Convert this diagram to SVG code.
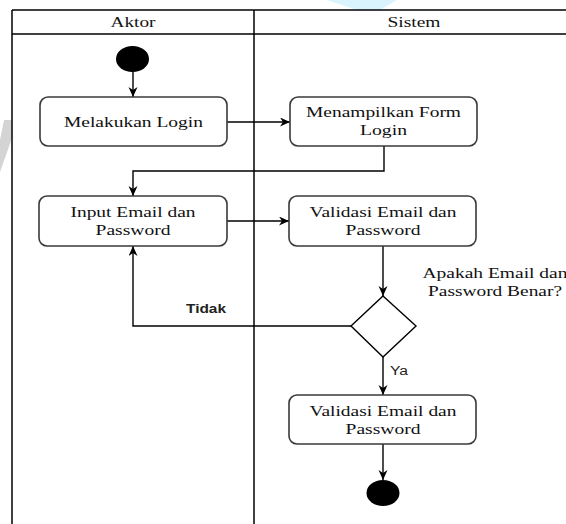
<svg xmlns="http://www.w3.org/2000/svg" width="566" height="524" viewBox="0 0 566 524">
  <style>
    .frame { fill: none; stroke: #000; stroke-width: 1.5; }
    .box { fill: #fff; stroke: #3a3a3a; stroke-width: 1.6; }
    .t { font-family: "Liberation Serif", "Times New Roman", serif; font-size: 15px; fill: #111; text-anchor: middle; }
    .lbl { font-family: "Liberation Sans", Arial, sans-serif; font-size: 12.5px; fill: #222; }
    .edge { fill: none; stroke: #000; stroke-width: 1.4; marker-end: url(#arrow); }
  </style>
  <defs>
    <marker id="arrow" markerUnits="userSpaceOnUse" markerWidth="12" markerHeight="10" refX="10" refY="4.5" orient="auto">
      <path d="M0,0 L10,4.5 L0,9 L3,4.5 z" fill="#000"/>
    </marker>
  </defs>
  <rect width="566" height="524" fill="#fff"/>
  <g id="watermark">
    <polygon points="327,0 397,0 380,10 357,10" fill="#d9f4fd"/>
    <polygon points="4,120 12,120 12,138 0,172 0,140" fill="#d4d4d4"/>
  </g>
  <g id="swimlanes">
    <line class="frame" x1="12" y1="10" x2="566" y2="10"/>
    <line class="frame" x1="12" y1="34" x2="566" y2="34"/>
    <line class="frame" x1="12" y1="10" x2="12" y2="524"/>
    <line class="frame" x1="254" y1="10" x2="254" y2="524"/>
    <text class="t" x="133" y="27" textLength="45" lengthAdjust="spacingAndGlyphs">Aktor</text>
    <text class="t" x="414" y="27" textLength="53" lengthAdjust="spacingAndGlyphs">Sistem</text>
  </g>
  <g id="connectors">
    <path class="edge" d="M133,72 L133,97"/>
    <path class="edge" d="M227,122 L290,122"/>
    <path class="edge" d="M384,146 L384,171 L133,171 L133,196"/>
    <path class="edge" d="M227,221 L289,221"/>
    <path class="edge" d="M383,246 L383,296"/>
    <path class="edge" d="M351,326 L133,326 L133,246"/>
    <path class="edge" d="M383,357 L383,395"/>
    <path class="edge" d="M383,444 L383,480"/>
    <text class="lbl" x="186" y="313" font-weight="bold" textLength="40" lengthAdjust="spacingAndGlyphs">Tidak</text>
    <text class="lbl" x="390" y="375" font-size="12" textLength="18" lengthAdjust="spacingAndGlyphs">Ya</text>
  </g>
  <g id="start">
    <ellipse cx="132.5" cy="59" rx="16.5" ry="13" fill="#000"/>
  </g>
  <g id="melakukan-login">
    <rect class="box" x="40" y="97" width="187" height="49" rx="8"/>
    <text class="t" x="133.5" y="127" textLength="139" lengthAdjust="spacingAndGlyphs">Melakukan Login</text>
  </g>
  <g id="menampilkan-form">
    <rect class="box" x="290" y="97" width="187" height="49" rx="8"/>
    <text class="t" x="383.5" y="117" textLength="155" lengthAdjust="spacingAndGlyphs">Menampilkan Form</text>
    <text class="t" x="383.5" y="135" textLength="47" lengthAdjust="spacingAndGlyphs">Login</text>
  </g>
  <g id="input-email">
    <rect class="box" x="39" y="196" width="188" height="50" rx="8"/>
    <text class="t" x="133" y="217" textLength="125" lengthAdjust="spacingAndGlyphs">Input Email dan</text>
    <text class="t" x="133" y="235" textLength="75" lengthAdjust="spacingAndGlyphs">Password</text>
  </g>
  <g id="validasi-1">
    <rect class="box" x="289" y="196" width="187" height="50" rx="8"/>
    <text class="t" x="383" y="217" textLength="147" lengthAdjust="spacingAndGlyphs">Validasi Email dan</text>
    <text class="t" x="383" y="235" textLength="75" lengthAdjust="spacingAndGlyphs">Password</text>
  </g>
  <g id="decision">
    <polygon points="383,296 416,326 383,357 351,326" fill="#fff" stroke="#000" stroke-width="1.4"/>
    <text class="t" x="495" y="278" textLength="145" lengthAdjust="spacingAndGlyphs">Apakah Email dan</text>
    <text class="t" x="495" y="296" textLength="134" lengthAdjust="spacingAndGlyphs">Password Benar?</text>
  </g>
  <g id="validasi-2">
    <rect class="box" x="289" y="395" width="187" height="49" rx="8"/>
    <text class="t" x="383" y="415.5" textLength="147" lengthAdjust="spacingAndGlyphs">Validasi Email dan</text>
    <text class="t" x="383" y="433.5" textLength="75" lengthAdjust="spacingAndGlyphs">Password</text>
  </g>
  <g id="end">
    <ellipse cx="383" cy="493" rx="16.5" ry="13" fill="#000"/>
  </g>
</svg>
